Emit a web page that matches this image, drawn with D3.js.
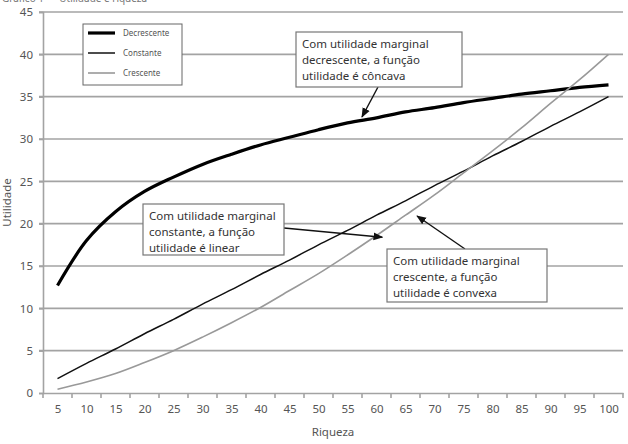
<!DOCTYPE html>
<html>
<head>
<meta charset="utf-8">
<script src="https://cdn.jsdelivr.net/npm/d3@7"></script>
<style>
  body { margin: 0; background: #fff; }
  svg text { font-family: "Noto Sans", "Open Sans", sans-serif; }
</style>
</head>
<body>
<div id="chart"></div>
<script>
// Data
var riqueza = [5, 10, 15, 20, 25, 30, 35, 40, 45, 50, 55, 60, 65, 70, 75, 80, 85, 90, 95, 100];
var decrescente = [12.7, 18.0, 21.4, 23.8, 25.5, 27.0, 28.2, 29.3, 30.2, 31.1, 31.9, 32.5, 33.2, 33.7, 34.3, 34.8, 35.3, 35.7, 36.1, 36.4];
var constante = [1.7, 3.5, 5.2, 7.0, 8.7, 10.5, 12.2, 14.0, 15.7, 17.5, 19.2, 21.0, 22.7, 24.5, 26.2, 28.0, 29.7, 31.5, 33.2, 35.0];
var crescente = [0.45, 1.3, 2.3, 3.6, 5.0, 6.6, 8.3, 10.1, 12.1, 14.1, 16.3, 18.6, 21.0, 23.4, 26.0, 28.6, 31.3, 34.2, 37.0, 40.0];
var yTicks = [0, 5, 10, 15, 20, 25, 30, 35, 40, 45];
var seriesNames = ['Decrescente', 'Constante', 'Crescente'];
var notes = [
  ['Com utilidade marginal', 'decrescente, a função', 'utilidade é côncava'],
  ['Com utilidade marginal', 'constante, a função', 'utilidade é linear'],
  ['Com utilidade marginal', 'crescente, a função', 'utilidade é convexa']
];

var width = 628, height = 444;
var margin = { top: 12, right: 5, bottom: 51, left: 43 };

var svg = d3.select('#chart').append('svg')
  .attr('width', width)
  .attr('height', height);

var xBand = d3.scaleBand()
  .domain(riqueza)
  .range([margin.left, width - margin.right]);

var x = d3.scalePoint()
  .domain(riqueza)
  .range([margin.left, width - margin.right])
  .padding(0.5);

var y = d3.scaleLinear()
  .domain([0, 45])
  .range([height - margin.bottom, margin.top]);

var grey = '#a3a3a3';
var textGrey = '#555';

// partial caption cut off at the top
svg.append('text')
  .attr('x', 2)
  .attr('y', 2)
  .attr('font-size', 10)
  .attr('fill', '#777')
  .text('Gráfico 1 — Utilidade e riqueza');

// Gridlines
svg.append('g')
  .selectAll('line')
  .data(yTicks.filter(function (d) { return d > 0; }))
  .enter()
  .append('line')
    .attr('x1', margin.left - 4)
    .attr('x2', width - margin.right)
    .attr('y1', function (d) { return y(d); })
    .attr('y2', function (d) { return y(d); })
    .attr('stroke', grey)
    .attr('stroke-width', 1.6);

// Y axis
var yAxis = svg.append('g')
  .attr('transform', 'translate(' + margin.left + ',0)')
  .call(d3.axisLeft(y).tickValues(yTicks).tickSize(4).tickPadding(6));
yAxis.selectAll('line').attr('stroke', grey).attr('stroke-width', 1.6);
yAxis.select('.domain').attr('stroke', grey).attr('stroke-width', 1.6);
yAxis.selectAll('text')
  .attr('font-size', 11.5)
  .attr('fill', textGrey)
  .style('font-family', '"Noto Sans", sans-serif');

// X axis: labels at band centres, ticks at band edges
var xAxis = svg.append('g')
  .attr('transform', 'translate(0,' + y(0) + ')')
  .call(d3.axisBottom(x).tickSize(0).tickPadding(12));
xAxis.select('.domain').attr('stroke', grey).attr('stroke-width', 1.6);
xAxis.selectAll('text')
  .attr('font-size', 11.5)
  .attr('fill', textGrey)
  .style('font-family', '"Noto Sans", sans-serif');

var edges = riqueza.map(function (d) { return xBand(d); })
  .concat([xBand(riqueza[riqueza.length - 1]) + xBand.bandwidth()]);
xAxis.selectAll('.edge')
  .data(edges)
  .enter()
  .append('line')
    .attr('class', 'edge')
    .attr('x1', function (d) { return d; })
    .attr('x2', function (d) { return d; })
    .attr('y1', 0)
    .attr('y2', 5)
    .attr('stroke', grey)
    .attr('stroke-width', 1.6);

// Axis titles
svg.append('text')
  .attr('x', (margin.left + width - margin.right) / 2)
  .attr('y', 436)
  .attr('text-anchor', 'middle')
  .attr('font-size', 11.5)
  .attr('fill', textGrey)
  .text('Riqueza');

svg.append('text')
  .attr('transform', 'translate(11,' + y(22.5) + ') rotate(-90)')
  .attr('text-anchor', 'middle')
  .attr('font-size', 11.5)
  .attr('fill', textGrey)
  .text('Utilidade');

// Lines
var line = d3.line()
  .x(function (d, i) { return x(riqueza[i]); })
  .y(function (d) { return y(d); })
  .curve(d3.curveCatmullRom);

var styles = [
  { values: decrescente, color: '#000', width: 3.2 },
  { values: constante, color: '#111', width: 1.5 },
  { values: crescente, color: '#999', width: 1.6 }
];

svg.append('g')
  .selectAll('path')
  .data(styles)
  .enter()
  .append('path')
    .attr('d', function (d) { return line(d.values); })
    .attr('fill', 'none')
    .attr('stroke', function (d) { return d.color; })
    .attr('stroke-width', function (d) { return d.width; });

// Legend
var legend = svg.append('g').attr('transform', 'translate(83,24)');
legend.append('rect')
  .attr('width', 99)
  .attr('height', 61)
  .attr('fill', '#fff')
  .attr('stroke', '#666')
  .attr('stroke-width', 1);

legend.selectAll('g')
  .data(styles)
  .enter()
  .append('g')
    .attr('transform', function (d, i) { return 'translate(0,' + (9 + i * 20) + ')'; })
    .each(function (d, i) {
      var g = d3.select(this);
      g.append('line')
        .attr('x1', 5).attr('x2', 32)
        .attr('y1', 0).attr('y2', 0)
        .attr('stroke', d.color)
        .attr('stroke-width', d.width);
      g.append('text')
        .attr('x', 40)
        .attr('y', 3)
        .attr('font-size', 8)
        .attr('fill', textGrey)
        .text(seriesNames[i]);
    });

// Annotations
svg.append('defs').append('marker')
  .attr('id', 'arrow')
  .attr('viewBox', '0 0 10 10')
  .attr('refX', 9)
  .attr('refY', 5)
  .attr('markerWidth', 7)
  .attr('markerHeight', 7)
  .attr('orient', 'auto')
  .append('path')
    .attr('d', 'M0,1 L10,5 L0,9 Z')
    .attr('fill', '#111');

var boxes = [
  { x: 296, y: 32, w: 166, h: 55, from: [378, 87], to: [57.5, 32.6] },
  { x: 143, y: 204, w: 141, h: 51, from: [284, 228], to: [61, 18.4] },
  { x: 387, y: 249, w: 160, h: 53, from: [465, 249], to: [67, 20.9] }
];

boxes.forEach(function (b, k) {
  var g = svg.append('g');
  var tx = x(60) + (b.to[0] - 60) / 5 * x.step();
  g.append('line')
    .attr('x1', b.from[0]).attr('y1', b.from[1])
    .attr('x2', tx).attr('y2', y(b.to[1]))
    .attr('stroke', '#111')
    .attr('stroke-width', 1.4)
    .attr('marker-end', 'url(#arrow)');
  g.append('rect')
    .attr('x', b.x).attr('y', b.y)
    .attr('width', b.w).attr('height', b.h)
    .attr('fill', '#fff')
    .attr('stroke', '#777')
    .attr('stroke-width', 1.2);
  g.selectAll('text')
    .data(notes[k])
    .enter()
    .append('text')
      .attr('x', b.x + 6)
      .attr('y', function (d, i) { return b.y + 16 + i * 16; })
      .attr('font-size', 11.5)
      .attr('fill', '#333')
      .text(function (d) { return d; });
});
</script>
</body>
</html>
